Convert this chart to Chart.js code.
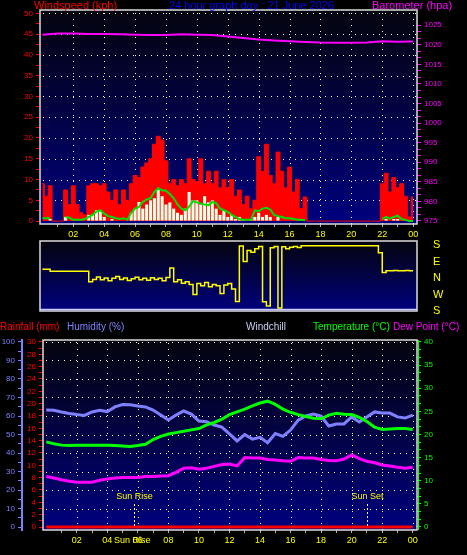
<!DOCTYPE html>
<html>
<head>
<meta charset="utf-8">
<script src="https://cdn.jsdelivr.net/npm/chart.js@4"></script>
<style>
  html, body { margin: 0; padding: 0; background: #000; }
  body { width: 467px; height: 555px; position: relative; overflow: hidden; }
  canvas { position: absolute; left: 0; }
</style>
</head>
<body>
<canvas id="windChart" width="467" height="245" style="top:0px"></canvas>
<canvas id="dirChart" width="467" height="84" style="top:234px"></canvas>
<canvas id="tempChart" width="467" height="237" style="top:318px"></canvas>
<script>
// wind panels: one sample every quarter hour (00:00 .. 24:00)
const dataStep = 0.25;
const windGust = [
  9, 6, 8.5, 0,   0, 0, 7.5, 4,   8.5, 4, 2, 1.5,   8.5, 9, 9, 8.5,
  9, 7, 5, 7.5,   4, 7.5, 5, 9,   11, 10.5, 13, 14,   15, 18.5, 20.4, 19.5,
  14.5, 9, 10, 8.5,   10, 9, 15, 10,   9.5, 15, 9, 12,   9, 12, 8, 10,
  8, 10, 6, 7.5,   4, 6, 3, 5,   15.5, 12, 18.5, 11,   9, 16.6, 12, 8,
  13, 7, 10, 3,   5.8, 0, 0, 0,   0, 0, 0, 0,   0, 0, 0, 0,
  0, 0, 0, 0,   0, 0, 0, 0,   9, 11.5, 7, 10.5,   8, 9, 6, 1,
  5.8
];
const windAvg = [
  0.7, 0.7, 0.7, null,   null, null, 1, 0.8,   0.3, 0.3, 0.3, 0.5,   1, 1.5, 2.3, 2.6,
  1.8, 1.2, 1, 0.7,   0.5, 0.7, 0.3, 2,   3, 3.4, 4.6, 5.2,   5.5, 7, 7.9, 7.4,
  7.3, 6.5, 5.5, 4,   3, 2.6, 3.5, 4.8,   4.5, 4.2, 4, 3.8,   4.6, 4.3, 3, 2.6,
  2.2, 1.5, 1, 0.5,   0.3, 0.3, 0.3, 2.6,   2.4, 3, 3.2, 2.8,   1.5, 1.2, 1, 0.7,
  0.7, 0.5, 0.3, 0.3,   0.2, null, null, null,   null, null, null, null,   null, null, null, null,
  null, null, null, null,   null, null, null, null,   0.5, 1, 0.6, 1,   1.3, 0.5, 0.3, 0,
  0
];
const windSpeed = [
  0, 0, 0.5, 0,   0, 0, 1, 0,   0, 0, 0, 0,   1.5, 1.5, 2.6, 2.6,
  1, 0, 0.5, 0,   0, 0, 0, 2,   3, 4.6, 3, 4,   5, 5.5, 7.5, 6,
  4, 4.5, 3, 2,   1.5, 3, 7, 5,   5, 4, 6, 4.5,   5, 3, 1.5, 2.5,
  1, 1.5, 0.5, 1,   0.5, 0, 0.5, 1,   2, 1, 1.5, 1,   0, 1, 0, 0,
  0, 0, 0, 0,   0, 0, 0, 0,   0, 0, 0, 0,   0, 0, 0, 0,
  0, 0, 0, 0,   0, 0, 0, 0,   0, 0.5, 0, 0.5,   0.5, 0, 0, 0,
  0
];
// compass bearing in degrees
const windDir = [
  47.5, 47.5, 37, 37,   37, 37, 37, 37,   37, 37, 37, 37,   340, 352, 5, 350,
  0, 345, 358, 8,   352, 0, 346, 356,   4, 350, 359, 348,   2, 352, 358, 345,
  3, 55, 340, 350,   332, 340, 325, 270,   330, 318, 335, 312,   325, 318, 275, 322,
  330, 300, 232, 175,   90, 150, 140, 160,   172, 231, 207, 165,   172, 196, 170, 160,
  168, 172, 167, 176,   176, 176, 176, 176,   176, 176, 176, 176,   176, 176, 176, 176,
  176, 176, 176, 176,   176, 176, 176, 138,   30, 40, 39, 41,   40, 39, 41, 40,
  40
];
const windHours = windGust.map((v, i) => i * dataStep);

const baroHours = [0, 1, 2, 3, 4, 5, 6, 7, 8, 9, 10, 11, 12, 13, 14, 15, 16, 17, 18, 19, 20, 21, 22, 23, 24];
const barometer = [1022.6, 1022.9, 1022.9, 1022.8, 1022.8, 1022.7, 1022.6, 1022.5, 1022.5, 1022.7, 1022.6, 1022.5,
  1022.1, 1021.75, 1021.35, 1021.1, 1020.9, 1020.75, 1020.6, 1020.55, 1020.55, 1020.6, 1020.9, 1020.8, 1020.85];

// lower panel: one sample every half hour
const tempHours = [0, 0.5, 1, 1.5, 2, 2.5, 3, 3.5, 4, 4.5, 5, 5.5, 6, 6.5, 7, 7.5, 8, 8.5, 9, 9.5, 10, 10.5, 11, 11.5,
  12, 12.5, 13, 13.5, 14, 14.5, 15, 15.5, 16, 16.5, 17, 17.5, 18, 18.5, 19, 19.5, 20, 20.5, 21, 21.5, 22, 22.5, 23, 23.5, 24];
const humidity = [63.2, 63.1, 62.2, 61.4, 60.8, 60.3, 62.2, 63.1, 62.4, 64.9, 66.2, 66.1, 65.4, 64.9, 63.2, 60.5,
  57.8, 60.5, 62.7, 61.0, 57.3, 56.9, 55.1, 54.0, 50.3, 46.5, 50, 47.5, 48.5, 45.5, 50.5, 49,
  52.4, 57.8, 60.0, 61.0, 60.0, 54.6, 55.7, 55.7, 59.5, 56.8, 59.5, 62.2, 61.6, 61.6, 59.5, 58.9, 60.5];
const temperature = [18.4, 18.0, 17.7, 17.6, 17.7, 17.7, 17.7, 17.7, 17.7, 17.6, 17.5, 17.4, 17.6, 17.9, 18.9, 19.6,
  20.1, 20.4, 20.7, 21.0, 21.3, 22.1, 22.6, 23.3, 24.3, 24.9, 25.5, 26.2, 26.8, 27.2, 26.5, 25.5,
  24.8, 24.3, 23.9, 23.5, 23.4, 24.2, 24.6, 24.4, 24.3, 23.7, 22.8, 21.6, 21.1, 21.2, 21.3, 21.3, 21.1];
const dewPoint = [10.9, 10.6, 10.2, 9.9, 9.7, 9.7, 9.7, 10.1, 10.4, 10.6, 10.7, 10.7, 10.7, 10.9, 10.9, 11.0,
  11.1, 11.8, 12.7, 12.8, 12.5, 12.7, 13.1, 13.5, 13.6, 13.2, 15.0, 14.9, 14.9, 14.6, 14.5, 14.3,
  14.2, 15.0, 14.9, 14.9, 14.6, 14.4, 14.3, 14.7, 15.6, 14.8, 14.2, 13.9, 13.4, 13.2, 12.9, 12.7, 12.9];
const rainfall = [0, 0, 0, 0, 0, 0, 0, 0, 0, 0, 0, 0, 0, 0, 0, 0, 0, 0, 0, 0, 0, 0, 0, 0,
  0, 0, 0, 0, 0, 0, 0, 0, 0, 0, 0, 0, 0, 0, 0, 0, 0, 0, 0, 0, 0, 0, 0, 0, 0];
const sunRise = 5.77;
const sunSet = 21.03;

// axis labels
const tickHours = [1, 2, 3, 4, 5, 6, 7, 8, 9, 10, 11, 12, 13, 14, 15, 16, 17, 18, 19, 20, 21, 22, 23, 24];
const xLabelHours = [2, 4, 6, 8, 10, 12, 14, 16, 18, 20, 22, 24];
const xLabelText = ['02', '04', '06', '08', '10', '12', '14', '16', '18', '20', '22', '00'];
const windLabels = [0, 5, 10, 15, 20, 25, 30, 35, 40, 45, 50];
const baroLabels = [975, 980, 985, 990, 995, 1000, 1005, 1010, 1015, 1020, 1025];
const rainLabels = [0, 2, 4, 6, 8, 10, 12, 14, 16, 18, 20, 22, 24, 26, 28, 30];
const humLabels = [0, 10, 20, 30, 40, 50, 60, 70, 80, 90, 100];
const tempLabels = [0, 5, 10, 15, 20, 25, 30, 35, 40];
const dirTickValues = [0, 90, 180, 270, 360];
const dirTickText = ['S', 'W', 'N', 'E', 'S'];

Chart.defaults.font.family = '"Liberation Sans", Arial, sans-serif';

const pts = (xs, ys) => ys.map((v, i) => ({ x: xs[i], y: v }));

function subdivide(labels, sub) {
  const out = [];
  for (let i = 0; i < labels.length - 1; i++) {
    for (let k = 0; k < sub; k++) out.push(labels[i] + (labels[i + 1] - labels[i]) * k / sub);
  }
  out.push(labels[labels.length - 1]);
  return out;
}

function timeAxis(min, max, height) {
  return {
    type: 'linear', min: min, max: max, bounds: 'data', offset: false,
    grid: { drawOnChartArea: false, offset: false, tickColor: '#b0b0b0', tickLength: 3 },
    border: { display: false },
    afterBuildTicks: s => { s.ticks = tickHours.map(v => ({ value: v })); },
    afterFit: s => { s.height = height; },
    ticks: {
      autoSkip: false, maxRotation: 0, color: '#ffff00', font: { size: 9 }, padding: 2,
      callback: v => { const i = xLabelHours.indexOf(v); return i < 0 ? '' : xLabelText[i]; }
    }
  };
}

function valueAxis(o) {
  return {
    type: 'linear', position: o.position, weight: o.weight || 0,
    min: o.min, max: o.max, bounds: 'data', beginAtZero: false,
    grid: { drawOnChartArea: false, tickColor: o.color, tickLength: 4 },
    border: o.border || { display: false },
    afterBuildTicks: s => { s.ticks = subdivide(o.labels, o.sub).map(v => ({ value: v })); },
    afterFit: s => { s.width = o.width; },
    ticks: {
      autoSkip: false, color: o.color, font: { size: 8 }, padding: 3,
      callback: v => o.labels.some(l => Math.abs(l - v) < 1e-6) ? String(Math.round(v)) : ''
    }
  };
}

// gradient plot background, dotted grid and light frame
function panel(opt) {
  return {
    id: 'panel',
    beforeDraw(chart) {
      const { ctx, chartArea: a } = chart;
      ctx.save();
      const g = ctx.createLinearGradient(0, a.top, 0, a.bottom);
      g.addColorStop(0, '#04040e');
      g.addColorStop(1, '#00007e');
      ctx.fillStyle = g;
      ctx.fillRect(a.left, a.top, a.width, a.height);
      ctx.strokeStyle = '#ffffff';
      ctx.lineWidth = 1;
      ctx.setLineDash([1, 5]);
      const xs = chart.scales.x;
      (opt.vLines || []).forEach(h => {
        const x = Math.round(xs.getPixelForValue(h)) + 0.5;
        ctx.beginPath(); ctx.moveTo(x, a.top + 3); ctx.lineTo(x, a.bottom); ctx.stroke();
      });
      if (opt.hScale) {
        const ys = chart.scales[opt.hScale];
        opt.hLines.forEach(v => {
          const y = Math.round(ys.getPixelForValue(v)) + 0.5;
          ctx.beginPath(); ctx.moveTo(a.left + 3, y); ctx.lineTo(a.right, y); ctx.stroke();
        });
      }
      ctx.restore();
    },
    afterDatasetsDraw(chart) {
      const { ctx, chartArea: a } = chart;
      ctx.save();
      ctx.strokeStyle = '#dcdcdc';
      ctx.lineWidth = 1.5;
      ctx.strokeRect(a.left, a.top, a.width, a.height);
      if (opt.bottomLine) {
        ctx.strokeStyle = opt.bottomLine;
        ctx.beginPath(); ctx.moveTo(a.left, a.bottom - 1.5); ctx.lineTo(a.right, a.bottom - 1.5); ctx.stroke();
      }
      if (opt.rightAxis) {
        ctx.fillStyle = opt.rightAxis;
        ctx.fillRect(a.right + 1, a.top, 1, a.height);
      }
      ctx.restore();
    }
  };
}

function textLayer(items) {
  return {
    id: 'texts',
    afterDraw(chart) {
      const ctx = chart.ctx;
      ctx.save();
      ctx.textBaseline = 'middle';
      items.forEach(t => {
        ctx.font = t.size + 'px "Liberation Sans", Arial, sans-serif';
        ctx.fillStyle = t.color;
        ctx.textAlign = t.align || 'left';
        ctx.fillText(t.text, t.x, t.y);
      });
      ctx.restore();
    }
  };
}

const sunMarks = {
  id: 'sun',
  afterDatasetsDraw(chart) {
    const { ctx } = chart;
    const xs = chart.scales.x;
    const y0 = chart.scales.yR.getPixelForValue(0);
    ctx.save();
    ctx.font = '9px "Liberation Sans", Arial, sans-serif';
    ctx.textAlign = 'center';
    ctx.textBaseline = 'middle';
    [[sunRise, 'Sun Rise'], [sunSet, 'Sun Set']].forEach(([h, label]) => {
      const x = Math.round(xs.getPixelForValue(h)) + 0.5;
      ctx.strokeStyle = '#ffffff';
      ctx.lineWidth = 1;
      ctx.setLineDash([2, 2]);
      ctx.beginPath(); ctx.moveTo(x, y0 - 23); ctx.lineTo(x, y0); ctx.stroke();
      ctx.fillStyle = '#ffff00';
      ctx.fillText(label, x, y0 - 30);
    });
    ctx.fillText('Sun Rise', xs.getPixelForValue(sunRise) - 2, chart.chartArea.bottom + 11);
    ctx.restore();
  }
};

const base = {
  responsive: false, animation: false, devicePixelRatio: 1,
  plugins: { legend: { display: false }, tooltip: { enabled: false } }
};

// wind speed + barometer
new Chart(document.getElementById('windChart'), {
  type: 'line',
  data: {
    datasets: [
      { label: 'Barometer', data: pts(baroHours, barometer), yAxisID: 'yB',
        borderColor: '#ff00ff', borderWidth: 2, pointRadius: 0, tension: 0 },
      { label: 'Average', data: pts(windHours, windAvg), yAxisID: 'y',
        borderColor: '#00e000', borderWidth: 2, pointRadius: 0, spanGaps: false },
      { type: 'bar', label: 'Wind', data: pts(windHours, windSpeed), yAxisID: 'y',
        backgroundColor: '#e4ffe4', grouped: false, barPercentage: 0.8, categoryPercentage: 1 },
      { label: 'Gust', data: pts(windHours, windGust), yAxisID: 'y',
        borderColor: '#ff0000', backgroundColor: '#ff0000', borderWidth: 1, pointRadius: 0,
        stepped: 'middle', fill: 'origin' }
    ]
  },
  options: Object.assign({}, base, {
    layout: { padding: { top: 10, left: 0, right: 0, bottom: 0 } },
    scales: {
      x: timeAxis(-0.155, 24.25, 21),
      y: valueAxis({ position: 'left', min: -0.7, max: 50.8, labels: windLabels, sub: 2, color: '#ff0000', width: 40 }),
      yB: valueAxis({ position: 'right', min: 974.23, max: 1028.9, labels: baroLabels, sub: 3, color: '#ff00ff', width: 50 })
    }
  }),
  plugins: [
    panel({ vLines: xLabelHours, hScale: 'y', hLines: windLabels.slice(1) }),
    textLayer([
      { text: 'Windspeed (kph)', x: 34, y: 6, size: 11, color: '#ff0000' },
      { text: '24 hour graph day : 21 June 2026', x: 251.5, y: 6, size: 11, color: '#0000ff', align: 'center' },
      { text: 'Barometer (hpa)', x: 372, y: 6, size: 11, color: '#ff00ff' }
    ])
  ]
});

// wind direction
new Chart(document.getElementById('dirChart'), {
  type: 'line',
  data: {
    datasets: [
      { label: 'Direction', data: pts(windHours, windDir.map(b => (b + 180) % 360)),
        borderColor: '#ffff00', borderWidth: 1.5, pointRadius: 0, stepped: true }
    ]
  },
  options: Object.assign({}, base, {
    layout: { padding: { top: 7, left: 40, right: 0, bottom: 7 } },
    scales: {
      x: { type: 'linear', display: false, min: -0.155, max: 24.25, bounds: 'data', offset: false },
      y: {
        type: 'linear', position: 'right', min: 0, max: 381.8, bounds: 'data',
        grid: { drawOnChartArea: false, drawTicks: true, tickLength: 16, tickColor: 'rgba(0,0,0,0)' },
        border: { display: false },
        afterBuildTicks: s => { s.ticks = dirTickValues.map(v => ({ value: v })); },
        afterFit: s => { s.width = 50; },
        ticks: { autoSkip: false, color: '#ffff00', font: { size: 11 }, padding: 0,
          callback: v => dirTickText[dirTickValues.indexOf(v)] }
      }
    }
  }),
  plugins: [panel({ bottomLine: '#c8c8ff' })]
});

// temperature, humidity, dew point, rainfall
new Chart(document.getElementById('tempChart'), {
  type: 'line',
  data: {
    datasets: [
      { label: 'Rainfall', data: pts(tempHours, rainfall), yAxisID: 'yR',
        borderColor: '#ff0000', borderWidth: 3, pointRadius: 0 },
      { label: 'Temperature', data: pts(tempHours, temperature), yAxisID: 'yT',
        borderColor: '#00ff00', borderWidth: 3, pointRadius: 0 },
      { label: 'Dew Point', data: pts(tempHours, dewPoint), yAxisID: 'yT',
        borderColor: '#ff00ff', borderWidth: 3, pointRadius: 0 },
      { label: 'Humidity', data: pts(tempHours, humidity), yAxisID: 'yH',
        borderColor: '#8080ff', borderWidth: 3, pointRadius: 0 }
    ]
  },
  options: Object.assign({}, base, {
    layout: { padding: { top: 22, left: 0, right: 0, bottom: 0 } },
    scales: {
      x: timeAxis(-0.21, 24.28, 25),
      yH: valueAxis({ position: 'left', weight: 1, min: -1.62, max: 101.08, labels: humLabels, sub: 2,
        color: '#8080ff', width: 22, border: { display: true, color: '#8080ff', width: 2 } }),
      yR: valueAxis({ position: 'left', weight: 0, min: -0.486, max: 30.32, labels: rainLabels, sub: 2,
        color: '#ff0000', width: 21 }),
      yT: valueAxis({ position: 'right', min: -0.649, max: 40.43, labels: tempLabels, sub: 3,
        color: '#00ff00', width: 50 })
    }
  }),
  plugins: [
    panel({ vLines: xLabelHours, hScale: 'yH', hLines: humLabels.slice(1), rightAxis: '#00ff00' }),
    sunMarks,
    textLayer([
      { text: 'Rainfall (mm)', x: 0, y: 9, size: 10, color: '#ff0000' },
      { text: 'Humidity (%)', x: 67, y: 9, size: 10, color: '#8080ff' },
      { text: 'Windchill', x: 246, y: 9, size: 10, color: '#c8d0f0' },
      { text: 'Temperature (°C)', x: 313, y: 9, size: 10, color: '#00ff00' },
      { text: 'Dew Point (°C)', x: 393, y: 9, size: 10, color: '#ff00ff' }
    ])
  ]
});
</script>
</body>
</html>
